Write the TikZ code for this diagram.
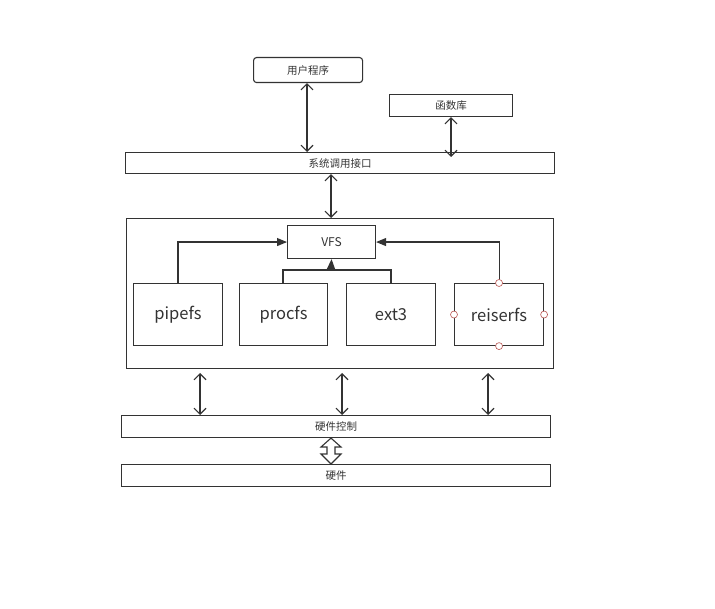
\documentclass[tikz,border=0pt]{standalone}
\usepackage{fontspec}
\setmainfont{Noto Sans CJK SC}
\usetikzlibrary{arrows.meta}
\definecolor{ln}{HTML}{333333}
\definecolor{pt}{HTML}{B85450}
\begin{document}
\begin{tikzpicture}[x=1pt,y=-1pt,
  box/.style={draw=ln,line width=1.1pt,inner sep=0pt,anchor=north west,font=\fontsize{10.5}{12}\selectfont,text=ln},
  fsbox/.style={box,font=\fontsize{16.5}{18}\selectfont,minimum width=89pt,minimum height=62pt},
  dbl/.style={draw=ln,line width=1.1pt,{Straight Barb[length=6pt,width=12pt]}-{Straight Barb[length=6pt,width=12pt]}},
  tri/.style={draw=ln,line width=1.1pt,-{Triangle[length=10pt,width=8pt]}},
  port/.style={circle,draw=pt,fill=white,line width=0.6pt,inner sep=0pt,minimum size=7pt}]
\useasboundingbox (0,0) rectangle (715,609);
\node[box,rounded corners=3pt,minimum width=109pt,minimum height=25pt] (user) at (253,57) {用户程序};
\node[box,minimum width=123pt,minimum height=22pt] (lib) at (389,94) {函数库};
\node[box,minimum width=429pt,minimum height=21pt] (sci) at (125,152) {系统调用接口};
\node[box,minimum width=427pt,minimum height=150pt] (cont) at (126,218) {};
\node[box,font=\fontsize{12}{14}\selectfont,minimum width=88pt,minimum height=33pt] (vfs) at (287,225) {VFS};
\node[fsbox] (pipe) at (133,283) {pipefs};
\node[fsbox,minimum width=88pt] (proc) at (239,283) {procfs};
\node[fsbox] (ext) at (346,283) {ext3};
\node[fsbox] (reis) at (454,283) {reiserfs};
\node[box,minimum width=429pt,minimum height=22pt] (hwc) at (121,415) {硬件控制};
\node[box,minimum width=429pt,minimum height=22pt] (hw) at (121,464) {硬件};
% vertical double arrows
\draw[dbl] (user.south -| 307,0) -- (sci.north -| 307,0);
\draw[dbl] (lib.south -| 451,0) -- (451,157);
\draw[dbl] (sci.south -| 331,0) -- (cont.north -| 331,0);
\foreach \xx in {200,342,488}{
  \draw[dbl] (\xx,373) -- (hwc.north -| \xx,0);
}
% fs to VFS
\draw[tri] (pipe.north -| 178,0) |- (vfs.west);
\draw[tri] (reis.north) |- (vfs.east);
\coordinate (join) at (331,270);
\draw[draw=ln,line width=1.1pt] (proc.north -| 283,0) |- (join) -| (ext.north -| 391,0);
\draw[tri] (join) -- (vfs.south);
% ports
\node[port] (p1) at (reis.north) {};
\node[port] (p2) at (reis.west) {};
\node[port] (p3) at (reis.east) {};
\node[port] (p4) at (reis.south) {};
% hollow double arrow
\draw[draw=ln,line width=1.1pt,fill=white,line join=miter]
  (hwc.south -| 331,0) -- (341,447) -- (335,447) -- (335,454) -- (341,454) -- (hw.north -| 331,0)
  -- (321,454) -- (327,454) -- (327,447) -- (321,447) -- cycle;
\end{tikzpicture}
\end{document}
